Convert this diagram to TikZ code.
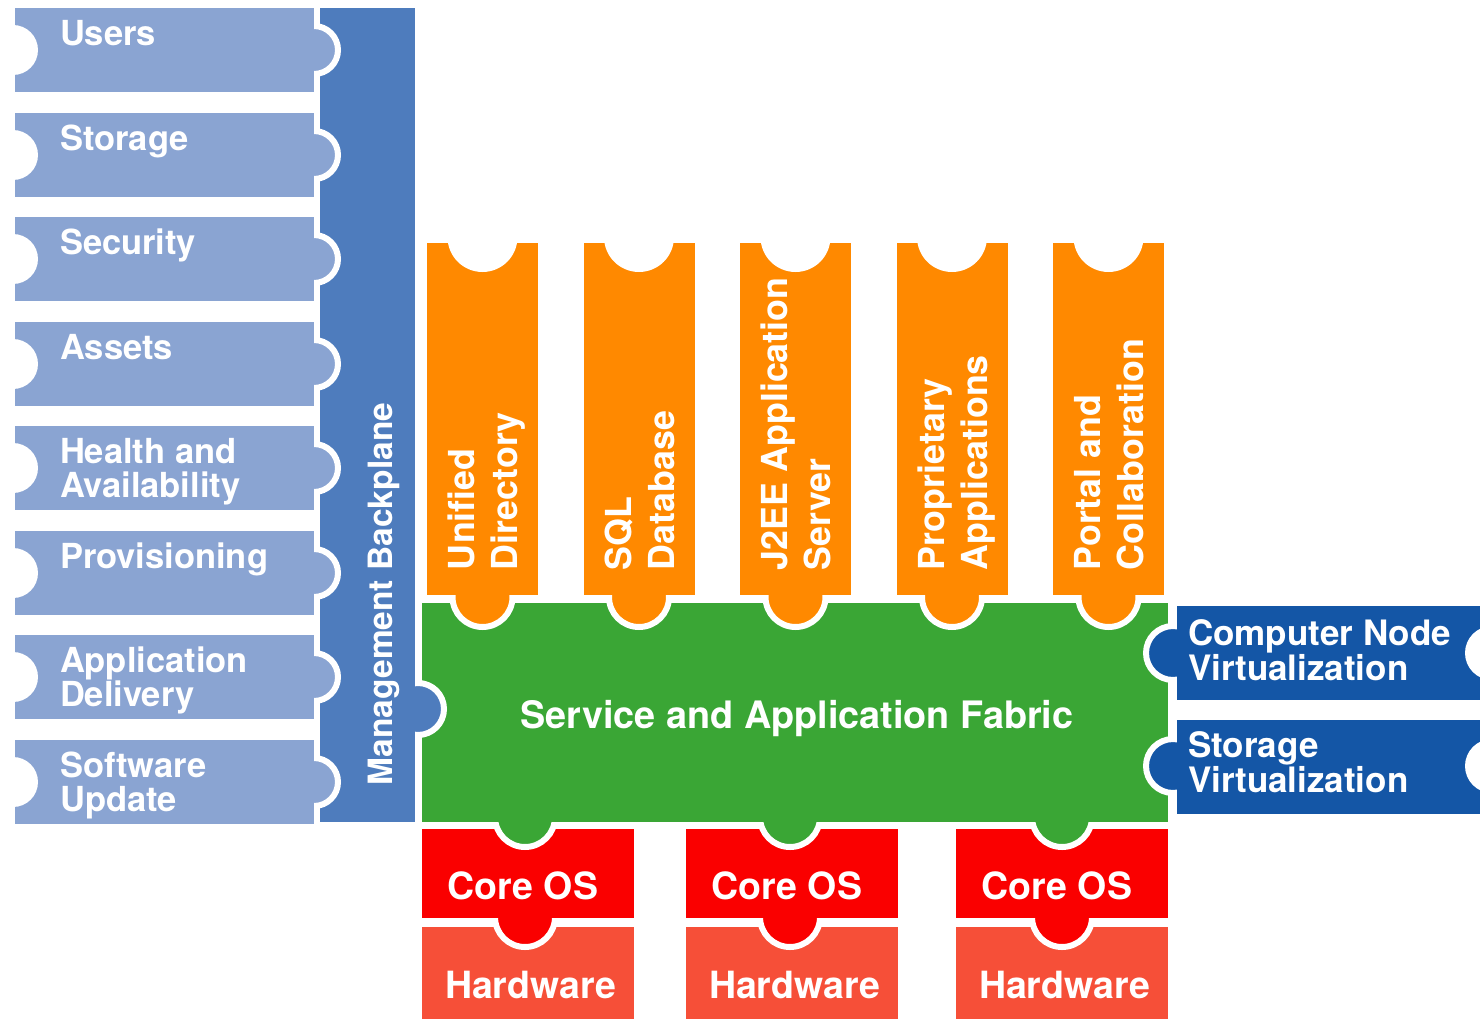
\documentclass[tikz,border=0pt]{standalone}
\usepackage{fontspec}
\setmainfont{TeX Gyre Heros}
\definecolor{mgmt}{RGB}{138,164,210}
\definecolor{bpblue}{RGB}{78,124,189}
\definecolor{appor}{RGB}{255,137,0}
\definecolor{fabric}{RGB}{58,166,53}
\definecolor{corered}{RGB}{250,0,0}
\definecolor{hwred}{RGB}{246,79,56}
\definecolor{virt}{RGB}{20,86,166}
\begin{document}
\begin{tikzpicture}[x=1pt,y=-1pt,
  lbl/.style={text=white, inner sep=0pt, outer sep=0pt},
  leftlbl/.style={lbl, font={\bfseries\fontsize{34.5}{34}\selectfont}, align=left, anchor=north west},
  orlbl/.style={lbl, font={\bfseries\fontsize{35.8}{43}\selectfont}, align=left, rotate=90, anchor=north west},
  biglbl/.style={lbl, font={\bfseries\fontsize{37.5}{40}\selectfont}, anchor=base},
  virtlbl/.style={lbl, font={\bfseries\fontsize{35}{33}\selectfont}, align=left, anchor=north west},
  tabc/.style={draw=white, line width=6pt}]
\useasboundingbox (0,0) rectangle (1480,1019);
\clip (0,0) rectangle (1480,1019);
\fill[white] (0,0) rectangle (1480,1019);
% hardware
\foreach \a/\b in {422/634, 686/898, 956/1168} \fill[hwred] (\a,927) rectangle (\b,1025);
% core OS tabs and bodies
\foreach \c in {525,790,1062} \filldraw[fill=corered, tabc] (\c,917) circle (30);
\foreach \a/\b in {422/634, 686/898, 956/1168} \fill[corered] (\a,829) rectangle (\b,918);
% fabric tabs and body
\foreach \c in {525,790,1062} \filldraw[fill=fabric, tabc] (\c,817) circle (30);
\fill[fabric] (422,603) rectangle (1168,822);
% application columns
\foreach \l in {427,583.5,740,896.5,1053} {
  \filldraw[fill=appor, tabc] (\l+55.5,597) circle (30);
  \fill[appor] (\l,243) rectangle (\l+111,595);
  \fill[white] (\l+55.5,237) circle (35);
}
% management backplane
\filldraw[fill=bpblue, tabc] (418,709) circle (26);
\fill[bpblue] (320,8) rectangle (415,822);
% management tiles
\foreach \t in {8,113,217,322,426,531,635,740} {
  \filldraw[fill=mgmt, tabc] (314,\t+42) circle (24);
  \fill[mgmt] (15,\t) rectangle (314,\t+84);
  \fill[white] (13,\t+42) circle (25);
}
% virtualization tiles
\foreach \t/\c in {606/653, 720/766} {
  \filldraw[fill=virt, tabc] (1173,\c) circle (27);
  \fill[virt] (1177,\t) rectangle (1495,\t+94);
  \fill[white] (1492,\c) circle (27);
}
% labels
\node[leftlbl] (users) at (60,20.2) {Users};
\node[leftlbl] (storage) at (60,125.2) {Storage};
\node[leftlbl] (security) at (60,229.2) {Security};
\node[leftlbl] (assets) at (60,334.2) {Assets};
\node[leftlbl] (health) at (60,438.2) {Health and\\Availability};
\node[leftlbl] (prov) at (60,543.2) {Provisioning};
\node[leftlbl] (appdel) at (60,647.2) {Application\\Delivery};
\node[leftlbl] (swupd) at (60,752.2) {Software\\Update};
\node[lbl, font={\bfseries\fontsize{33.5}{36}\selectfont}, rotate=90, anchor=base west] (backplane) at (392,785) {Management Backplane};
\node[orlbl] (unified) at (448,570) {Unified\\Directory};
\node[orlbl] (sql) at (604.5,570) {SQL\\Database};
\node[orlbl] (j2ee) at (761,570) {J2EE Application\\Server};
\node[orlbl] (prop) at (917.5,570) {Proprietary\\Applications};
\node[orlbl] (portal) at (1074,570) {Portal and\\Collaboration};
\node[lbl, font={\bfseries\fontsize{37.8}{40}\selectfont}, anchor=base] (fab) at (797,728) {Service and Application Fabric};
\node[biglbl] (os1) at (523,899) {Core OS};
\node[biglbl] (os2) at (787,899) {Core OS};
\node[biglbl] (os3) at (1057,899) {Core OS};
\node[biglbl] (hw1) at (530.5,998) {Hardware};
\node[biglbl] (hw2) at (794.5,998) {Hardware};
\node[biglbl] (hw3) at (1064.5,998) {Hardware};
\node[virtlbl] (cnv) at (1188,619.8) {Computer Node\\Virtualization};
\node[virtlbl] (sv) at (1188,731.8) {Storage\\Virtualization};
\end{tikzpicture}
\end{document}
